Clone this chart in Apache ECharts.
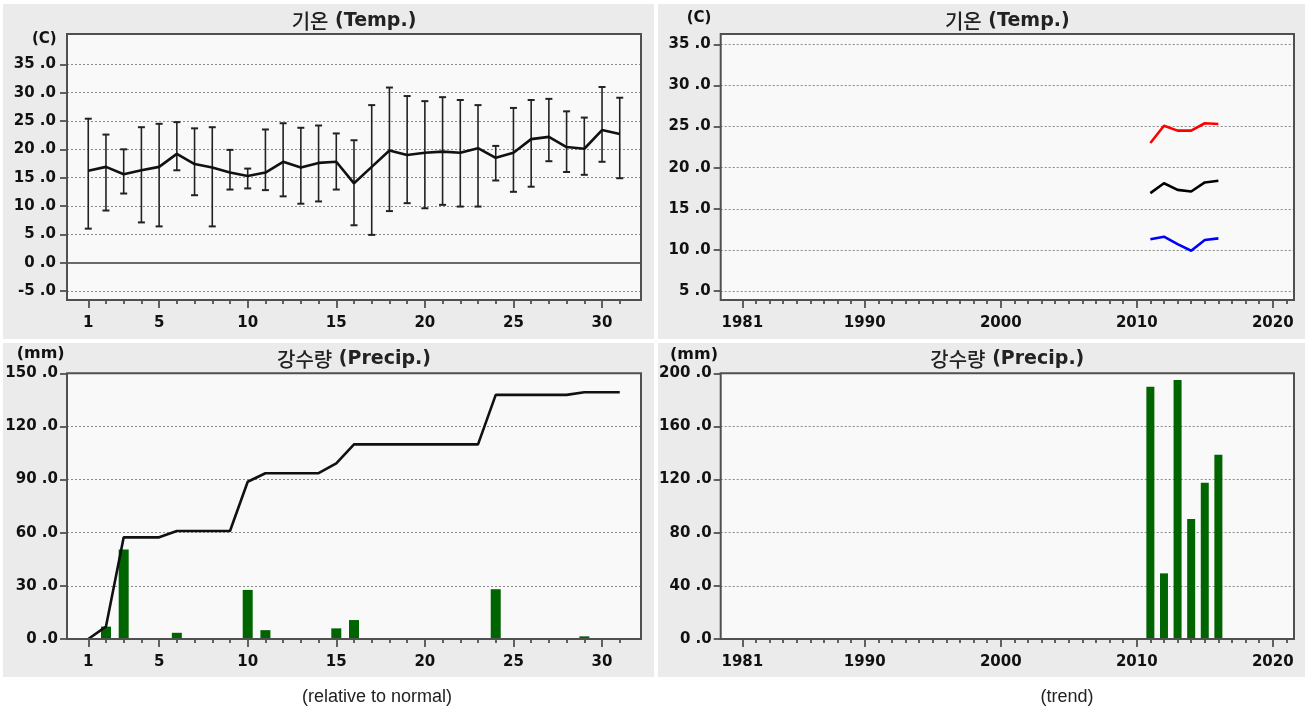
<!DOCTYPE html>
<html>
<head>
<meta charset="utf-8">
<script src="https://cdn.jsdelivr.net/npm/echarts@6/dist/echarts.min.js"></script>
<style>
html,body{margin:0;padding:0;background:#fff;}
#c{width:1308px;height:713px;}
</style>
</head>
<body>
<div id="c"></div>
<script>
// ---- data ----
const days = [1,2,3,4,5,6,7,8,9,10,11,12,13,14,15,16,17,18,19,20,21,22,23,24,25,26,27,28,29,30,31];
const dayLabels = [1,5,10,15,20,25,30];
const tempMean = [16.2,16.9,15.6,16.3,16.9,19.2,17.4,16.8,15.9,15.3,15.9,17.8,16.8,17.6,17.8,14.0,16.9,19.8,19.0,19.4,19.6,19.4,20.2,18.5,19.4,21.8,22.2,20.4,20.1,23.4,22.7];
const tempHigh = [25.4,22.6,20.0,23.9,24.5,24.8,23.7,23.9,19.9,16.6,23.5,24.6,23.8,24.2,22.8,21.6,27.8,30.9,29.4,28.5,29.2,28.7,27.8,20.6,27.3,28.7,28.9,26.7,25.6,31.0,29.1];
const tempLow  = [6.0,9.2,12.2,7.1,6.4,16.3,11.9,6.4,12.9,13.1,12.8,11.7,10.4,10.8,12.9,6.6,4.9,9.1,10.5,9.6,10.2,9.9,9.9,14.5,12.5,13.4,17.9,16.0,15.5,17.8,14.9];
const precipDaily = [0,7.0,50.5,0,0,3.5,0,0,0,27.7,5.0,0,0,0,6.0,10.7,0,0,0,0,0,0,0,28.1,0,0,0,0,1.5,0,0];
const precipCum = [0,7.0,57.4,57.4,57.4,61.0,61.0,61.0,61.0,88.8,93.6,93.6,93.6,93.6,99.2,109.9,109.9,109.9,109.9,109.9,109.9,109.9,109.9,137.8,137.8,137.8,137.8,137.8,139.3,139.3,139.3];
const years = [2011,2012,2013,2014,2015,2016];
const yearLabels = [1981,1990,2000,2010,2020];
const trendMax  = [23.0,25.1,24.5,24.5,25.4,25.3];
const trendMean = [16.9,18.1,17.3,17.1,18.2,18.4];
const trendMin  = [11.3,11.6,10.7,9.9,11.2,11.4];
const trendPrecip = [189.9,49.4,195.0,90.3,117.7,138.7];

const yearTicks = [];
for (let y = 1981; y <= 2021; y++) yearTicks.push(y);

// ---- layout ----
const W = 1308, H = 713;
const boxes = [
  {x1:67, x2:641, y1:34, y2:300},
  {x1:67, x2:641, y1:373.3, y2:639},
  {x1:720.7, x2:1294, y1:34, y2:300},
  {x1:720.7, x2:1294, y1:373.3, y2:639}
];
const panels = [
  {x:3, y:4, w:651, h:335},
  {x:3, y:343, w:651, h:334},
  {x:658, y:4, w:647, h:335},
  {x:658, y:343, w:647, h:334}
];
const gridTB = [[64.3, 291], [373.3, 639], [44.3, 291], [373.3, 639]];

const LBL = {fontFamily:'DejaVu Sans', fontWeight:'bold', fontSize:15, color:'#111'};
const grids = boxes.map((b, i) => ({
  left: b.x1, width: b.x2 - b.x1, top: gridTB[i][0], height: gridTB[i][1] - gridTB[i][0],
  show: false
}));

function xAxesFor(gi, min, max, minorVals, majorVals, offset) {
  return [
    {type:'value', gridIndex:gi, min:min, max:max, position:'bottom', offset:offset,
     axisLine:{show:false, onZero:false}, splitLine:{show:false},
     axisTick:{show:true, length:4, customValues:minorVals, lineStyle:{color:'#333', width:1.5}},
     axisLabel:{show:false}},
    {type:'value', gridIndex:gi, min:min, max:max, position:'bottom', offset:offset,
     axisLine:{show:false, onZero:false}, splitLine:{show:false},
     axisTick:{show:true, length:8, customValues:majorVals, lineStyle:{color:'#333', width:1.5}},
     axisLabel:Object.assign({show:true, margin:16, customValues:majorVals, formatter: v => String(v)}, LBL)}
  ];
}
function yAxisFor(gi, min, max, interval, margin) {
  return {type:'value', gridIndex:gi, min:min, max:max, interval:interval,
    axisLine:{show:false, onZero:false},
    axisTick:{show:true, length:7, lineStyle:{color:'#333', width:1.5}},
    axisLabel:Object.assign({margin:margin, formatter: v => v + ' .0'}, LBL),
    splitLine:{show:true, lineStyle:{color:'#8a8a8a', width:1, type:[2,2]}}};
}

const xAxis = [].concat(
  xAxesFor(0, -0.2, 32.2, days, dayLabels, 9),
  xAxesFor(1, -0.2, 32.2, days, dayLabels, 0),
  xAxesFor(2, 1979.41, 2021.56, yearTicks, yearLabels, 9),
  xAxesFor(3, 1979.41, 2021.56, yearTicks, yearLabels, 0)
);
const yAxis = [
  yAxisFor(0, -5, 35, 5, 11),
  yAxisFor(1, 0, 150, 30, 9),
  yAxisFor(2, 5, 35, 5, 10),
  yAxisFor(3, 0, 200, 40, 9)
];

const errData = days.map((d, i) => [d, tempLow[i], tempHigh[i]]);

const series = [
  {type:'custom', xAxisIndex:0, yAxisIndex:0, z:3,
   data: errData, encode:{x:0, y:[1,2]},
   renderItem: function (params, api) {
     const x = api.value(0), lo = api.value(1), hi = api.value(2);
     const a = api.coord([x, hi]), b = api.coord([x, lo]);
     const w = 3.5, st = {stroke:'#222', lineWidth:1.6};
     return {type:'group', children:[
       {type:'line', shape:{x1:a[0], y1:a[1], x2:b[0], y2:b[1]}, style:st},
       {type:'line', shape:{x1:a[0]-w, y1:a[1], x2:a[0]+w, y2:a[1]}, style:{stroke:'#222', lineWidth:2}},
       {type:'line', shape:{x1:b[0]-w, y1:b[1], x2:b[0]+w, y2:b[1]}, style:{stroke:'#222', lineWidth:2}}
     ]};
   }},
  {type:'line', xAxisIndex:0, yAxisIndex:0, z:4, symbol:'none',
   data: days.map((d, i) => [d, tempMean[i]]),
   lineStyle:{color:'#111', width:2.6},
   markLine:{silent:true, symbol:'none', label:{show:false}, animation:false,
     lineStyle:{color:'#6a6a6a', width:2, type:'solid'}, data:[{yAxis:0}]}},
  {type:'bar', xAxisIndex:2, yAxisIndex:1, barWidth:10, z:3,
   data: days.map((d, i) => [d, precipDaily[i]]),
   itemStyle:{color:'#006400'}},
  {type:'line', xAxisIndex:2, yAxisIndex:1, z:4, symbol:'none',
   data: days.map((d, i) => [d, precipCum[i]]),
   lineStyle:{color:'#111', width:2.6}},
  {type:'line', xAxisIndex:4, yAxisIndex:2, symbol:'none',
   data: years.map((y, i) => [y, trendMax[i]]), lineStyle:{color:'#ff0000', width:2.6}},
  {type:'line', xAxisIndex:4, yAxisIndex:2, symbol:'none',
   data: years.map((y, i) => [y, trendMean[i]]), lineStyle:{color:'#000000', width:2.6}},
  {type:'line', xAxisIndex:4, yAxisIndex:2, symbol:'none',
   data: years.map((y, i) => [y, trendMin[i]]), lineStyle:{color:'#0000ff', width:2.6}},
  {type:'bar', xAxisIndex:6, yAxisIndex:3, barWidth:8, z:3,
   data: years.map((y, i) => [y, trendPrecip[i]]),
   itemStyle:{color:'#006400'}}
];

// ---- graphics: panels, boxes, titles, units, captions ----
const graphic = [];
panels.forEach(p => graphic.push({type:'rect', z:-20, silent:true,
  shape:{x:p.x, y:p.y, width:p.w, height:p.h}, style:{fill:'#ebebeb'}}));
boxes.forEach(b => graphic.push({type:'rect', z:-10, silent:true,
  shape:{x:b.x1, y:b.y1, width:b.x2-b.x1, height:b.y2-b.y1}, style:{fill:'#f9f9f9'}}));
boxes.forEach(b => graphic.push({type:'rect', z:50, silent:true,
  shape:{x:b.x1, y:b.y1, width:b.x2-b.x1, height:b.y2-b.y1},
  style:{fill:null, stroke:'#505050', lineWidth:2}}));

function title(cx, cy, kor, eng) {
  return {type:'text', z:60, silent:true, x:cx, y:cy,
    style:{text:'{k|' + kor + '}{e| (' + eng + ')}', align:'center', verticalAlign:'middle',
      rich:{
        k:{fontFamily:'Noto Sans CJK KR', fontSize:20, fill:'#222', fontWeight:500},
        e:{fontFamily:'DejaVu Sans', fontSize:19, fill:'#222', fontWeight:'bold'}
      }}};
}
graphic.push(title(354, 21, '기온', 'Temp.'));
graphic.push(title(1007.3, 21, '기온', 'Temp.'));
graphic.push(title(354, 359, '강수량', 'Precip.'));
graphic.push(title(1007.3, 359, '강수량', 'Precip.'));

function unit(x, y, t, fs) {
  return {type:'text', z:60, silent:true, x:x, y:y,
    style:{text:t, align:'left', verticalAlign:'middle', fontFamily:'DejaVu Sans', fontWeight:'bold', fontSize:fs, fill:'#111'}};
}
graphic.push(unit(32, 39.3, '(C)', 15));
graphic.push(unit(686.7, 18.3, '(C)', 15));
graphic.push(unit(16.7, 354, '(mm)', 16));
graphic.push(unit(670, 355, '(mm)', 16));

function caption(cx, cy, t) {
  return {type:'text', z:60, silent:true, x:cx, y:cy,
    style:{text:t, align:'center', verticalAlign:'middle', fontFamily:'Liberation Sans', fontSize:18, fill:'#222'}};
}
graphic.push(caption(377, 697, '(relative to normal)'));
graphic.push(caption(1067, 697, '(trend)'));

const chart = echarts.init(document.getElementById('c'), null, {renderer:'canvas', width:W, height:H});
chart.setOption({
  animation:false,
  backgroundColor:'#ffffff',
  grid: grids,
  xAxis: xAxis,
  yAxis: yAxis,
  series: series,
  graphic: graphic
});
</script>
</body>
</html>
